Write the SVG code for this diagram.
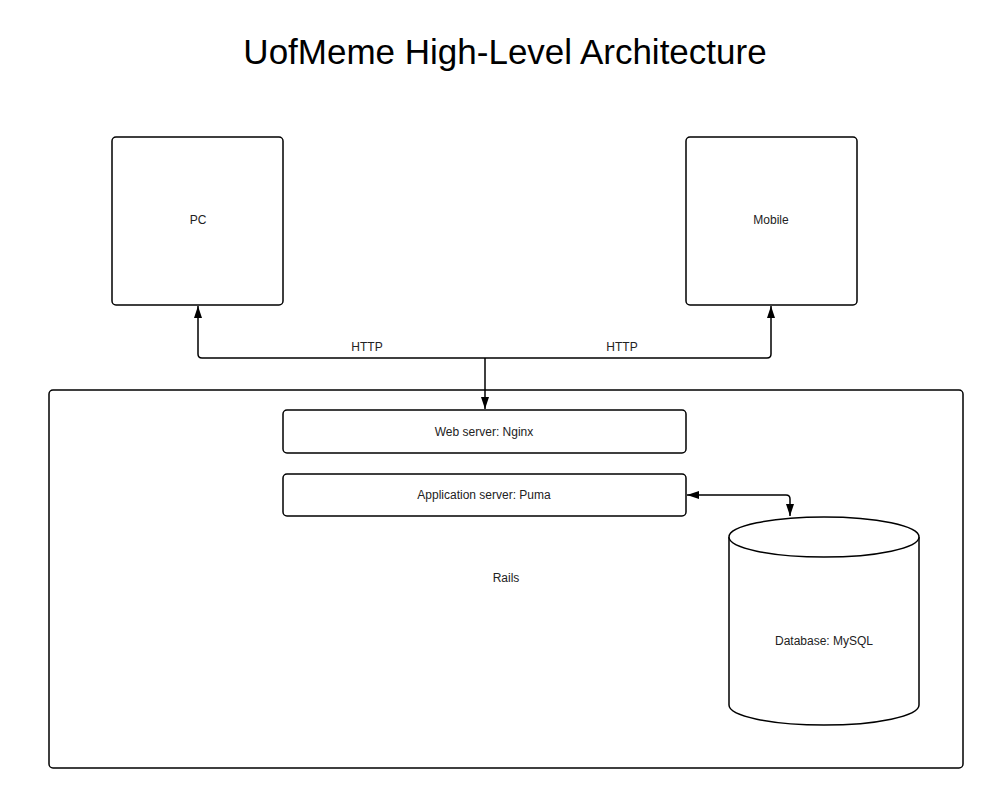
<svg xmlns="http://www.w3.org/2000/svg" width="1003" height="799" viewBox="0 0 1003 799">
<style>
.box{fill:#fff;stroke:#000;stroke-width:1.5}
.lbl{font-family:"Liberation Sans",Arial,sans-serif;font-size:12px;fill:#222;text-anchor:middle}
.title{font-family:"Liberation Sans",Arial,sans-serif;font-size:35px;fill:#000;text-anchor:middle}
.conn{fill:none;stroke:#000;stroke-width:1.5}
</style>
<defs>
<marker id="arr" viewBox="0 0 12 8" refX="12" refY="4" markerWidth="12" markerHeight="8" markerUnits="userSpaceOnUse" orient="auto-start-reverse">
<path d="M0,0 L12,4 L0,8 z" fill="#000"/>
</marker>
</defs>
<rect width="1003" height="799" fill="#fff"/>
<text class="title" x="505" y="64">UofMeme High-Level Architecture</text>
<g id="rails">
<rect class="box" x="49" y="390" width="914" height="378" rx="4"/>
<text class="lbl" x="506" y="582">Rails</text>
</g>
<g id="pc">
<rect class="box" x="112" y="137" width="171" height="168" rx="4"/>
<text class="lbl" x="198" y="224">PC</text>
</g>
<g id="mobile">
<rect class="box" x="686" y="137" width="171" height="168" rx="4"/>
<text class="lbl" x="771" y="224">Mobile</text>
</g>
<g id="web">
<rect class="box" x="283" y="410" width="403" height="43" rx="4"/>
<text class="lbl" x="484" y="436">Web server: Nginx</text>
</g>
<g id="app">
<rect class="box" x="283" y="474" width="403" height="42" rx="4"/>
<text class="lbl" x="484" y="499">Application server: Puma</text>
</g>
<g id="db">
<path class="box" d="M729,537 L729,705 A95,20 0 0 0 919,705 L919,537"/>
<ellipse class="box" cx="824" cy="537" rx="95" ry="20"/>
<text class="lbl" x="824" y="645">Database: MySQL</text>
</g>
<g id="connectors">
<path class="conn" d="M198,306 L198,354 Q198,358 202,358 L767,358 Q771,358 771,354 L771,306" marker-start="url(#arr)" marker-end="url(#arr)"/>
<path class="conn" d="M485,358 L485,409" marker-end="url(#arr)"/>
<path class="conn" d="M687,495 L786,495 Q790,495 790,499 L790,516" marker-start="url(#arr)" marker-end="url(#arr)"/>
</g>
<g id="labels">
<text class="lbl" x="367" y="351">HTTP</text>
<text class="lbl" x="622" y="351">HTTP</text>
</g>
</svg>
